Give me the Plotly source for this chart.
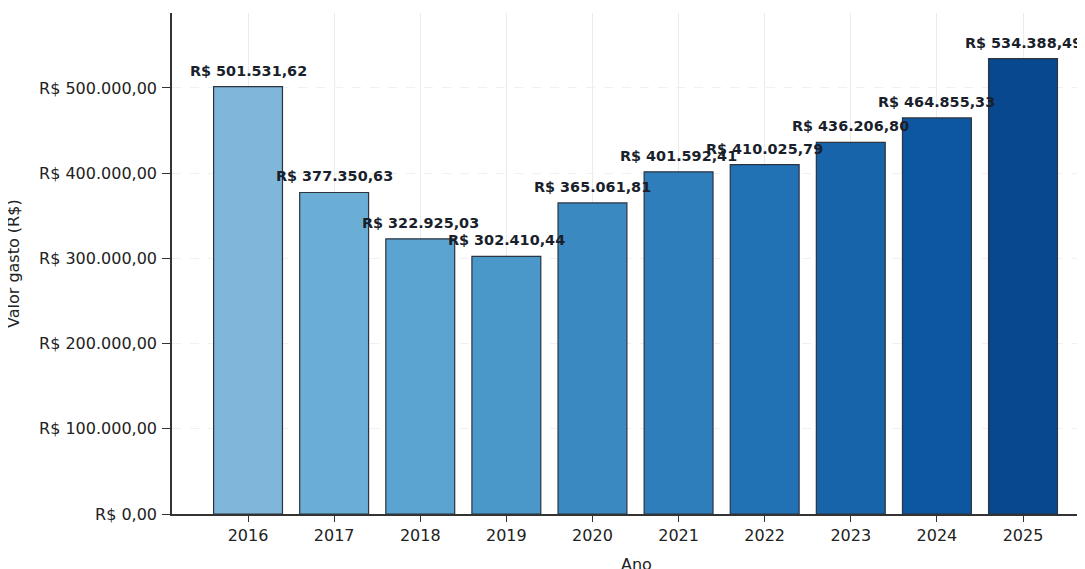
import plotly.graph_objects as go

anos = [2016, 2017, 2018, 2019, 2020, 2021, 2022, 2023, 2024, 2025]
valores = [501531.62, 377350.63, 322925.03, 302410.44, 365061.81,
           401592.41, 410025.79, 436206.80, 464855.33, 534388.49]
cores = ["#7fb6d9", "#6aaed6", "#5ba3d0", "#4a98c9", "#3a89c1",
         "#2e7ebc", "#2171b5", "#1864aa", "#0d56a0", "#08488e"]
y_ticks = [0, 100000, 200000, 300000, 400000, 500000]


def brl(v):
    s = f"{v:,.2f}"
    s = s.replace(",", "X").replace(".", ",").replace("X", ".")
    return "R$ " + s


# page body has an 8px margin; figure sized to fill the rest of the viewport
OFF = 8
W, H = 1085 - OFF, 569 - OFF
L, R, T, B = 172 - OFF, 0, 13 - OFF, 55
pw = W - L - R
ph = H - T - B

fig = go.Figure()
fig.add_trace(go.Bar(
    x=anos, y=valores, width=0.8,
    marker=dict(color=cores, line=dict(color="#2b3440", width=1.2)),
    hoverinfo="skip",
))

for a, v in zip(anos, valores):
    fig.add_annotation(x=a, y=v, text="<b>" + brl(v) + "</b>", showarrow=False,
                       xanchor="center", yanchor="bottom", yshift=6,
                       font=dict(family="DejaVu Sans", size=14.4, color="#1a1f2c"))

# axis titles
fig.add_annotation(xref="paper", yref="paper", x=-(L - 5) / pw, y=(H - B - (264 - OFF)) / ph,
                   text="Valor gasto (R$)", textangle=-90, showarrow=False,
                   xanchor="center", yanchor="middle",
                   font=dict(family="DejaVu Sans", size=16, color="#222"))
fig.add_annotation(xref="paper", yref="paper", x=(636 - OFF - L) / pw,
                   y=-(553 - OFF - (H - B)) / ph,
                   text="Ano", showarrow=False, xanchor="center", yanchor="top",
                   font=dict(family="DejaVu Sans", size=16, color="#222"))

fig.add_shape(type="rect", xref="paper", yref="paper",
              x0=-L / pw, x1=-(L - 1.5) / pw, y0=-0.05, y1=1.0,
              fillcolor="white", line=dict(width=0), layer="above")

fig.update_layout(
    width=W, height=H,
    margin=dict(l=L, r=R, t=T, b=B, autoexpand=False),
    paper_bgcolor="white", plot_bgcolor="white",
    showlegend=False,
    font=dict(family="DejaVu Sans", size=16, color="#222"),
    xaxis=dict(range=[2015.117, 2025.72], tickvals=anos, ticktext=[str(a) for a in anos],
               showline=True, linecolor="#333", linewidth=1.5,
               ticks="outside", ticklen=6, tickwidth=1.2, tickcolor="#333",
               showgrid=True, gridcolor="#ebebeb", gridwidth=1, zeroline=False,
               tickfont=dict(size=16, color="#222")),
    yaxis=dict(range=[0, 588000], tickvals=y_ticks, ticktext=[brl(t) for t in y_ticks],
               showline=True, linecolor="#333", linewidth=1.5,
               ticks="outside", ticklen=8, tickwidth=1.2, tickcolor="#333",
               ticklabelstandoff=2,
               showgrid=True, gridcolor="#f0f0f0", gridwidth=1, griddash="dash",
               zeroline=False, tickfont=dict(size=16, color="#222")),
)

fig.write_html("out.html")
